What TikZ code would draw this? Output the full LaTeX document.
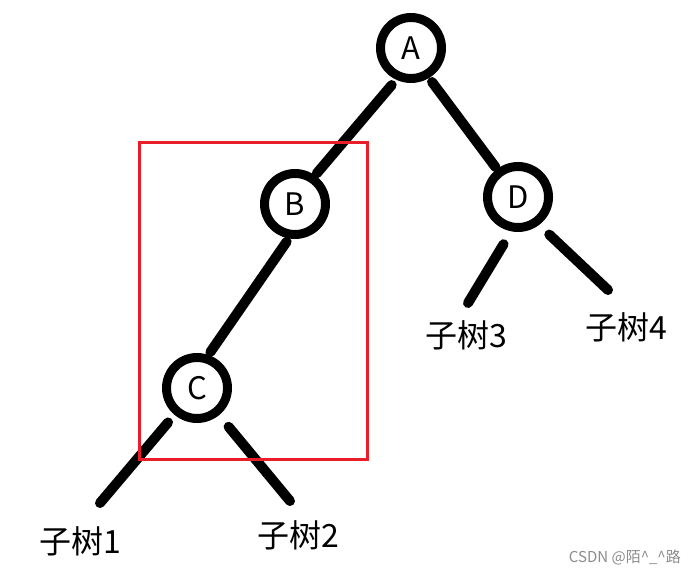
\documentclass[tikz,border=0pt]{standalone}
\usepackage{fontspec}
\setmainfont{Noto Sans CJK SC}
\definecolor{boxred}{RGB}{234,30,40}
\begin{document}
\begin{tikzpicture}[x=1pt, y=-1pt, vertex/.style={draw, circle, line width=9pt, minimum size=61pt, inner sep=0pt, font=\fontsize{31}{31}\selectfont}, edge/.style={line width=10pt, line cap=round}, sub/.style={inner sep=0pt, font=\fontsize{32}{32}\selectfont}]
  \useasboundingbox (0,0) rectangle (692,575);
  \node[vertex] (A) at (411,48) {A};
  \node[vertex] (B) at (295,204) {B};
  \node[vertex] (C) at (197,388) {C};
  \node[vertex] (D) at (518,197) {D};
  \node[sub] (t1) at (80,541) {子树1};
  \node[sub] (t2) at (298,535) {子树2};
  \node[sub] (t3) at (466,335) {子树3};
  \node[sub] (t4) at (626,327) {子树4};
  \coordinate (e1) at (100,503);
  \coordinate (e2) at (290,501);
  \coordinate (e3) at (468,303);
  \coordinate (e4) at (608,290);
  \draw[edge, shorten <=7pt, shorten >=2.5pt] (A.245) -- (B.55);
  \draw[edge, shorten <=5pt, shorten >=2.5pt] (A.301) -- (D.127);
  \draw[edge, shorten <=4pt, shorten >=3.5pt] (B.260) -- (C.71);
  \draw[edge, shorten <=10pt] (C.230) -- (e1);
  \draw[edge, shorten <=15pt] (C.309) -- (e2);
  \draw[edge, shorten <=15pt] (D.259) -- (e3);
  \draw[edge, shorten <=14pt] (D.307) -- (e4);
  % box round B and C
  \draw[boxred, line width=3pt] (139,142) rectangle (367,459);
  \node[anchor=east, inner sep=0pt, text=black!45, font=\fontsize{15}{15}\selectfont] (mark) at (681,557) {CSDN @陌\textasciicircum\_\textasciicircum 路};
\end{tikzpicture}
\end{document}
